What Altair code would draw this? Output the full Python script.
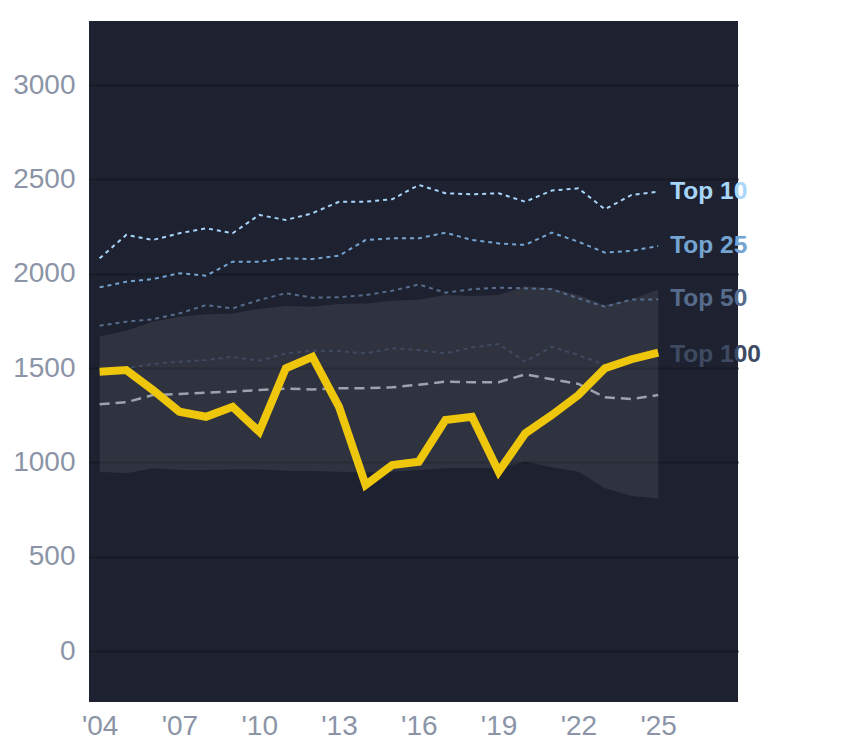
import altair as alt
import pandas as pd

years = list(range(2004, 2026))
yellow = [1481, 1490, 1384, 1269, 1242, 1295, 1163, 1499, 1560, 1295, 880, 986,
          1004, 1225, 1242, 951, 1154, 1251, 1357, 1499, 1547, 1582]
top10 = [2082, 2206, 2179, 2215, 2241, 2215, 2312, 2285, 2321, 2382, 2382, 2395,
         2471, 2427, 2421, 2427, 2382, 2441, 2453, 2342, 2418, 2435]
top25 = [1928, 1958, 1972, 2003, 1990, 2064, 2064, 2082, 2078, 2096, 2179, 2188,
         2188, 2218, 2179, 2161, 2153, 2218, 2170, 2112, 2122, 2147]
top50 = [1725, 1746, 1759, 1790, 1834, 1817, 1861, 1897, 1873, 1876, 1887, 1910,
         1943, 1900, 1918, 1926, 1923, 1918, 1870, 1825, 1864, 1864]
top100 = [1470, 1499, 1522, 1534, 1543, 1560, 1539, 1578, 1592, 1590, 1578, 1605,
          1596, 1578, 1610, 1628, 1534, 1613, 1569, 1516, 1545, 1570]
median = [1308, 1319, 1357, 1363, 1370, 1375, 1384, 1391, 1387, 1393, 1393, 1398,
          1412, 1428, 1425, 1425, 1467, 1441, 1416, 1345, 1336, 1357]
band_hi = [1667, 1698, 1746, 1772, 1785, 1790, 1813, 1829, 1825, 1840, 1843, 1857,
           1862, 1887, 1882, 1887, 1932, 1923, 1887, 1834, 1864, 1918]
band_lo = [951, 942, 969, 960, 960, 963, 963, 956, 954, 951, 947, 951,
           960, 969, 972, 969, 1004, 974, 951, 863, 822, 809]

series_names = ["Top 10", "Top 25", "Top 50", "Top 100"]
series_colors = ["#a8d6fa", "#74a4d2", "#576c8c", "#3e4a62"]
x_ticks = [2004, 2007, 2010, 2013, 2016, 2019, 2022, 2025]
y_ticks = [0, 500, 1000, 1500, 2000, 2500, 3000]

FONT = "Liberation Sans"

df = pd.DataFrame({"year": years, "yellow": yellow, "median": median,
                   "lo": band_lo, "hi": band_hi})
tops = pd.DataFrame({
    "year": years * 4,
    "series": sum([[n] * len(years) for n in series_names], []),
    "value": top10 + top25 + top50 + top100,
})
labels = pd.DataFrame({
    "year": [years[-1]] * 4,
    "series": series_names,
    "value": [top10[-1], top25[-1], top50[-1], top100[-1]],
})

xs = alt.Scale(domain=[2003.6, 2028], nice=False, zero=False)
ys = alt.Scale(domain=[-270, 3340], nice=False, zero=False)
cs = alt.Scale(domain=series_names, range=series_colors)

x_axis = alt.Axis(values=x_ticks, format="d", labelExpr="\"'\" + substring(datum.label, 2, 4)",
                  grid=False, domain=False, ticks=False, tickSize=0, labelPadding=10,
                  labelFontSize=28, labelColor="#8b95a7", labelFont=FONT, title=None)
y_axis = alt.Axis(values=y_ticks, format="d", grid=True, gridColor="#161a24", gridWidth=2,
                  domain=False, ticks=False, tickSize=0, labelPadding=14,
                  labelFontSize=28, labelColor="#8b95a7", labelFont=FONT, title=None)

band = alt.Chart(df).mark_area(color="white", opacity=0.08).encode(
    x=alt.X("year:Q", scale=xs, axis=x_axis),
    y=alt.Y("lo:Q", scale=ys, axis=y_axis),
    y2="hi:Q",
)

med = alt.Chart(df).mark_line(color="#9ca2ae", strokeWidth=2.5, strokeDash=[10, 6]).encode(
    x=alt.X("year:Q", scale=xs), y=alt.Y("median:Q", scale=ys))

top_lines = alt.Chart(tops).mark_line(strokeWidth=2, strokeDash=[4, 4]).encode(
    x=alt.X("year:Q", scale=xs),
    y=alt.Y("value:Q", scale=ys),
    color=alt.Color("series:N", scale=cs, legend=None),
    detail="series:N",
)

yl = alt.Chart(df).mark_line(color="#eec60c", strokeWidth=8).encode(
    x=alt.X("year:Q", scale=xs), y=alt.Y("yellow:Q", scale=ys))

txt = alt.Chart(labels).mark_text(align="left", baseline="middle", dx=12, fontSize=24.5,
                                  fontWeight="bold", font=FONT).encode(
    x=alt.X("year:Q", scale=xs),
    y=alt.Y("value:Q", scale=ys),
    text="series:N",
    color=alt.Color("series:N", scale=cs, legend=None),
)

chart = alt.layer(band, med, top_lines, yl, txt).properties(
    width=649, height=681,
    autosize=alt.AutoSizeParams(type="none"),
    padding={"left": 81, "top": 13, "right": 90, "bottom": 45},
    background="white",
).configure_view(fill="#1e2230", stroke=None)

chart.save("out.html", embed_options={"renderer": "svg", "actions": False})
